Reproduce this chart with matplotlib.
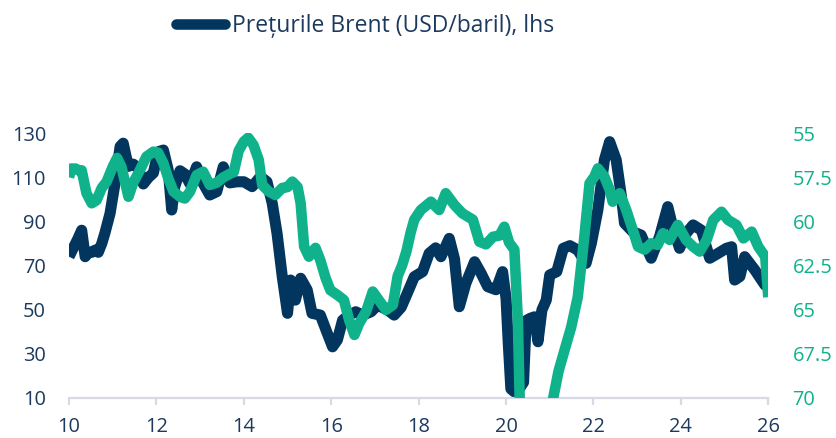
import matplotlib
matplotlib.use("Agg")
import matplotlib.pyplot as plt
from matplotlib.lines import Line2D

# ---- data ----
brent_years = [10.00, 10.10, 10.20, 10.29, 10.37, 10.45, 10.52, 10.60, 10.67, 10.75,
               10.82, 10.94, 11.05, 11.17, 11.24, 11.30, 11.36, 11.47, 11.59, 11.70,
               11.82, 11.93, 12.04, 12.16, 12.27, 12.35, 12.42, 12.54, 12.65, 12.77,
               12.92, 13.07, 13.22, 13.38, 13.53, 13.68, 13.84, 14.00, 14.19, 14.38,
               14.53, 14.65, 14.76, 14.88, 15.00, 15.07, 15.18, 15.30, 15.45, 15.56,
               15.75, 15.91, 16.03, 16.14, 16.26, 16.41, 16.56, 16.72, 16.91, 17.06,
               17.29, 17.44, 17.60, 17.74, 17.90, 18.09, 18.24, 18.39, 18.51, 18.70,
               18.82, 18.93, 19.08, 19.28, 19.43, 19.58, 19.77, 19.92, 20.00, 20.05,
               20.11, 20.20, 20.30, 20.40, 20.46, 20.55, 20.65, 20.73, 20.82, 20.92,
               21.00, 21.16, 21.31, 21.46, 21.64, 21.83, 21.95, 22.10, 22.25, 22.37,
               22.52, 22.64, 22.71, 22.90, 23.09, 23.32, 23.51, 23.70, 23.82, 23.97,
               24.12, 24.28, 24.47, 24.66, 24.85, 25.04, 25.16, 25.23, 25.35, 25.46,
               25.69, 25.92, 26.00]
brent_values = [74, 78, 82, 86, 74, 76, 76, 77, 76, 80,
                84.6, 93.7, 107, 124, 125.5, 120, 115, 116, 114, 107,
                110, 112, 121.6, 122.4, 113.3, 95.2, 105.8, 113, 111.5, 107,
                114.8, 107.3, 102, 103.5, 114.8, 107.5, 108, 108, 105.8, 110.3,
                108, 98.2, 84.6, 64.9, 48.3, 63.4, 54.3, 64.2, 58.9, 48.3,
                47.5, 39.2, 33.1, 36.2, 45.2, 47.5, 49, 47.5, 49, 52,
                49.8, 47.5, 51, 57.4, 64.9, 67.2, 75.5, 78, 74, 82.3,
                73, 51.3, 61.9, 71.7, 66.4, 60.4, 59, 67.2, 55, 35,
                14, 12.5, 14, 17, 45, 46, 46.7, 35.4, 49.8, 54.3,
                65.7, 67.2, 77.8, 79, 77, 71, 80, 95.2, 117.9, 126.2,
                117.9, 101.2, 89.2, 85.3, 83.8, 73.3, 83, 96.7, 86.9, 77.8,
                84.6, 88.4, 86, 73.3, 75.5, 77.8, 78.5, 63.4, 65, 74,
                68, 61.2, 70]

ratio_years = [10.00, 10.05, 10.15, 10.22, 10.29, 10.40, 10.52, 10.63, 10.75, 10.86,
               11.00, 11.10, 11.20, 11.36, 11.47, 11.62, 11.77, 11.93, 12.04, 12.16,
               12.27, 12.39, 12.54, 12.65, 12.77, 12.92, 13.07, 13.22, 13.38, 13.53,
               13.68, 13.77, 13.88, 14.00, 14.10, 14.22, 14.34, 14.42, 14.57, 14.72,
               14.88, 15.00, 15.11, 15.23, 15.30, 15.38, 15.49, 15.64, 15.75, 15.87,
               15.98, 16.14, 16.29, 16.41, 16.53, 16.64, 16.80, 16.95, 17.10, 17.25,
               17.41, 17.52, 17.62, 17.72, 17.82, 17.90, 18.05, 18.28, 18.47, 18.62,
               18.82, 19.00, 19.24, 19.39, 19.54, 19.70, 19.85, 19.96, 20.07, 20.19,
               20.27, 20.32, 20.50, 20.70, 20.90, 21.08, 21.20, 21.35, 21.49, 21.64,
               21.79, 21.91, 22.02, 22.10, 22.25, 22.37, 22.44, 22.60, 22.75, 22.90,
               23.02, 23.17, 23.32, 23.47, 23.59, 23.74, 23.93, 24.12, 24.28, 24.43,
               24.59, 24.74, 24.93, 25.08, 25.27, 25.43, 25.62, 25.77, 25.93, 26.00]
ratio_values = [57.5, 57.0, 57.0, 57.1, 57.1, 58.4, 58.97, 58.8, 58.1, 57.75,
                56.9, 56.4, 56.9, 58.6, 57.8, 57.1, 56.33, 56.04, 56.1, 56.7,
                57.55, 58.3, 58.6, 58.7, 58.3, 57.37, 57.18, 57.93, 57.8, 57.5,
                57.3, 57.2, 56.0, 55.47, 55.25, 55.66, 56.5, 57.93, 58.3, 58.5,
                58.1, 58.05, 57.74, 58.05, 58.97, 61.43, 62.0, 61.5, 62.2, 63.2,
                63.9, 64.17, 64.46, 65.6, 66.44, 65.78, 65.1, 63.98, 64.5, 65.02,
                64.74, 63.1, 62.5, 61.7, 60.6, 59.9, 59.35, 58.88, 59.35, 58.4,
                59.07, 59.54, 59.9, 61.15, 61.3, 60.87, 60.8, 60.3, 61.2, 61.6,
                65.6, 71.0, 73.0, 73.5, 72.0, 70.0, 68.5, 67.2, 66.0, 64.3,
                60.9, 57.84, 57.46, 56.99, 57.46, 58.2, 58.88, 58.4, 59.35, 60.49,
                61.43, 61.6, 61.24, 61.33, 60.67, 61.05, 60.2, 61.05, 61.43, 61.71,
                61.05, 59.92, 59.45, 59.92, 60.2, 60.96, 60.58, 61.43, 62.0, 64.3]

x_ticks = [10, 12, 14, 16, 18, 20, 22, 24, 26]
left_ticks = [10, 30, 50, 70, 90, 110, 130]
right_ticks = [55, 57.5, 60, 62.5, 65, 67.5, 70]
right_tick_labels = ["55", "57.5", "60", "62.5", "65", "67.5", "70"]
legend_label = "Prețurile Brent (USD/baril), lhs"

NAVY = "#02365e"
GREEN = "#10b28c"
LABEL_NAVY = "#1c3a5e"
SPINE = "#d8d8e6"

plt.rcParams["font.family"] = ["Open Sans", "DejaVu Sans"]

fig = plt.figure(figsize=(8.37, 4.38), dpi=100)
ax = fig.add_axes([69 / 837, 1 - 397.7 / 438, (768.3 - 69) / 837, (397.7 - 133.3) / 438])
ax2 = ax.twinx()

ax.plot(brent_years, brent_values, color=NAVY, lw=8.0, solid_joinstyle="round",
        solid_capstyle="butt", zorder=2)
ax2.plot(ratio_years, ratio_values, color=GREEN, lw=7.6, solid_joinstyle="round",
         solid_capstyle="butt", zorder=3)

ax.set_xlim(10, 26)
ax.set_ylim(10, 130)
ax2.set_ylim(70, 55)

ax.set_xticks(x_ticks)
ax.set_xticklabels([str(t) for t in x_ticks])
ax.set_yticks(left_ticks)
ax2.set_yticks(right_ticks)
ax2.set_yticklabels(right_tick_labels)

for s in ["top", "right", "left"]:
    ax.spines[s].set_visible(False)
for s in ax2.spines.values():
    s.set_visible(False)
ax.spines["bottom"].set_color(SPINE)
ax.spines["bottom"].set_linewidth(1.6)

ax.tick_params(axis="x", length=5, width=1.6, color=SPINE, labelsize=14.4,
               labelcolor=LABEL_NAVY, pad=9)
ax.tick_params(axis="y", length=0, labelsize=14.4, labelcolor=LABEL_NAVY, pad=16.5)
ax2.tick_params(axis="y", length=0, labelsize=14.4, labelcolor=GREEN, pad=17.5)

handle = Line2D([], [], color=NAVY, lw=7.6, solid_capstyle="round")
fig.legend([handle], [legend_label], loc="center left",
           bbox_to_anchor=(176 / 837, 1 - 26 / 438), frameon=False,
           borderpad=0, borderaxespad=0, handlelength=2.15, handletextpad=0.28,
           prop={"family": ["Open Sans", "DejaVu Sans"], "size": 16.5},
           labelcolor=LABEL_NAVY)

fig.savefig("out.png", dpi=100)
